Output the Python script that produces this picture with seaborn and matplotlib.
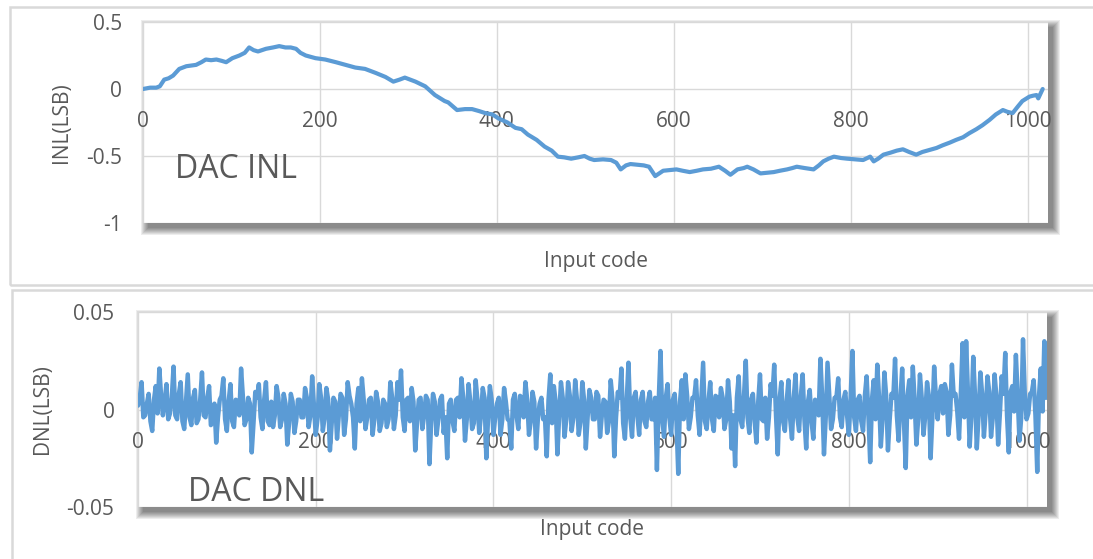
import matplotlib
matplotlib.use("Agg")
import matplotlib.pyplot as plt
from matplotlib.patches import Rectangle
import pandas as pd
import seaborn as sns

# INL curve (input code, LSB)
inl_code = [0, 8, 15, 19, 24, 29, 34, 41, 49, 55, 60, 66, 71, 77, 83, 89, 94, 101, 109, 115,
            120, 125, 130, 139, 147, 154, 161, 167, 173, 178, 184, 195, 206, 212, 218, 229, 240,
            251, 263, 274, 283, 290, 296, 302, 308, 319, 330, 341, 345, 355, 364, 372, 380, 387,
            395, 402, 412, 421, 428, 435, 445, 454, 462, 469, 476, 484, 492, 499, 505, 510, 520,
            529, 535, 540, 546, 551, 558, 566, 572, 579, 588, 596, 603, 610, 618, 626, 633, 642,
            651, 658, 664, 672, 679, 683, 690, 698, 705, 713, 720, 728, 734, 739, 748, 758, 764,
            769, 775, 781, 789, 796, 805, 814, 822, 826, 831, 837, 845, 852, 859, 866, 874, 881,
            889, 897, 904, 912, 919, 927, 934, 942, 949, 957, 964, 972, 977, 983, 989, 994, 1002,
            1006, 1010, 1012, 1017]
inl_lsb = [0.00, 0.01, 0.01, 0.02, 0.07, 0.08, 0.10, 0.15, 0.17, 0.175, 0.18, 0.20, 0.22, 0.215,
           0.22, 0.21, 0.20, 0.23, 0.25, 0.27, 0.31, 0.29, 0.28, 0.30, 0.31, 0.32, 0.31, 0.31,
           0.30, 0.27, 0.25, 0.23, 0.22, 0.21, 0.20, 0.18, 0.16, 0.15, 0.12, 0.09, 0.055, 0.07,
           0.085, 0.07, 0.055, 0.02, -0.045, -0.09, -0.10, -0.157, -0.15, -0.15, -0.165, -0.18,
           -0.19, -0.22, -0.25, -0.29, -0.30, -0.34, -0.38, -0.43, -0.46, -0.505, -0.51, -0.52,
           -0.51, -0.50, -0.52, -0.53, -0.525, -0.53, -0.55, -0.60, -0.57, -0.56, -0.565, -0.57,
           -0.58, -0.65, -0.61, -0.605, -0.60, -0.61, -0.62, -0.61, -0.60, -0.595, -0.58, -0.61,
           -0.64, -0.60, -0.59, -0.58, -0.60, -0.63, -0.625, -0.62, -0.61, -0.60, -0.59, -0.58,
           -0.59, -0.60, -0.57, -0.54, -0.52, -0.505, -0.515, -0.52, -0.525, -0.53, -0.505, -0.54,
           -0.52, -0.49, -0.475, -0.46, -0.45, -0.47, -0.49, -0.47, -0.455, -0.44, -0.42, -0.40,
           -0.38, -0.36, -0.33, -0.30, -0.27, -0.23, -0.19, -0.157, -0.17, -0.18, -0.13, -0.09,
           -0.057, -0.05, -0.045, -0.07, 0.0]

# DNL, in units of 0.001 LSB
# spikes, one value every 4 codes (0, 4, ..., 1020)
dnl_spike_code = list(range(0, 1024, 4))
dnl_spike_mlsb = [
    2, 14, -3, 8, -11, 12, 21, -3, 13, -2, 22, -5, 14, -10, 18, -8, 10, -5, 19, -4, 12, -6, -17, 5, 16,
    -11, 13, -9, 4, 21, -8, 6, -22, 9, 13, -10, 14, -8, -9, 12, -9, 8, -18, 8, -12, 5, -4, 11, -9, 17,
    -13, 13, -11, 11, -21, 6, -15, 8, -13, 14, 3, -20, 11, 16, -10, 5, -13, 9, -11, 5, -9, 14, -10, 14, 20,
    -11, 6, 11, -21, 5, -10, 7, -28, 8, -13, 5, -12, -25, 5, -11, 6, 16, -16, 13, -10, 15, -12, 11, -25, 12,
    -13, 3, -13, 11, -5, -20, 8, -10, 6, 14, -13, 9, -20, 3, -5, -24, 18, 12, -23, 14, -14, 14, -11, 15, -13,
    14, -20, 10, -5, 9, -14, 5, -12, 15, -24, 9, 21, -15, 24, -14, 9, -13, 9, -9, 9, -5, -31, 30, -14, 13,
    -13, 8, -33, 15, 18, -10, 6, 15, -13, 24, -10, 14, -11, 6, 11, -10, 15, -20, -29, 17, -9, 25, -12, 8, -17,
    18, -6, -15, 13, 23, -23, 14, -11, 15, -15, 18, -11, 18, -20, 10, -15, 3, 26, -23, 24, -10, 6, 16, -9, 9,
    -13, 30, -11, 7, -11, 17, -27, 15, 23, -19, 19, -21, 8, 26, -16, 21, -30, 15, 22, -18, 18, -13, 14, -25, 22,
    -5, 12, 13, -13, 23, 8, -15, 34, 35, -19, 27, -20, 19, -14, 17, -14, 18, -18, 17, 29, -22, 12, 28, -16,
    36, -5, 8, 15, -32, 21, 35,
]
# dense core of the band, codes 2, 6, ..., 1022
dnl_core_code = list(range(2, 1024, 4))
dnl_core_mlsb = [
    6, -4, 3, -6, 5, -2, 7, 4, -5, 6, -3, 8, -6, 4, -4, 6, -7, 5, -3, 6, -8, 3, -4, 7, -5,
    4, -6, 5, -3, 7, -5, 3, -7, 6, -4, 5, -6, 4, -3, 6, -5, 3, -7, 4, -6, 5, -4, 6, -3, 2,
    -5, 6, -4, 5, -7, 4, -3, 6, -5, 7, -4, 3, -6, 5, -4, 6, -5, 4, -7, 3, -5, 6, -3, 5, -4,
    5, -6, 4, -7, 6, -3, 5, -6, 4, -5, 7, -4, 3, -6, 5, -4, 6, -5, 4, -7, 5, -3, 6, -4, 5,
    -4, 6, -5, 4, -6, 5, -3, 7, -4, 5, -6, 4, -5, 6, -4, 5, -7, 4, -3, 6, -5, 7, -4, 5, -6,
    5, -4, 6, -5, 7, -3, 4, -6, 5, -4, 6, -7, 5, -4, 6, -3, 5, -6, 4, -5, 6, 4, -5, 6, -4,
    5, -6, 4, -5, 7, -4, 6, -3, 5, -6, 4, -5, 7, -4, 6, -5, 4, -3, 6, -5, 7, -4, 5, -6, 4,
    -5, 6, -4, 7, -3, 5, -6, 4, -5, 6, -4, 7, -5, 4, -6, 5, -3, 6, -4, 7, -5, 6, -4, 5, -3,
    6, -4, 5, -6, 7, -3, 5, -5, 6, -4, 7, -5, 6, -3, 5, -6, 7, -4, 5, -5, 6, -3, 7, -4, 6,
    8, -2, 9, -3, 7, -1, 8, -4, 9, -2, 7, -3, 8, -1, 9, -4, 7, -2, 8, -3, 9, -1, 7, -4, 8,
    -2, 9, -3, 7, -1, 6,
]

x_ticks = [0, 200, 400, 600, 800, 1000]
inl_ticks = [-1, -0.5, 0, 0.5]
inl_tick_labels = ["-1", "-0.5", "0", "0.5"]
dnl_ticks = [-0.05, 0, 0.05]
dnl_tick_labels = ["-0.05", "0", "0.05"]

dnl = pd.DataFrame({
    "code": dnl_spike_code + dnl_core_code,
    "mlsb": dnl_spike_mlsb + dnl_core_mlsb,
}).sort_values("code")
dnl["lsb"] = dnl["mlsb"] / 1000

sns.set_theme(style="white")
plt.rcParams['font.family'] = ['Open Sans', 'DejaVu Sans']

LINE = '#5B9BD5'
TEXT = '#595959'
GRID = '#D9D9D9'

W, H = 1093, 559
fig = plt.figure(figsize=(W / 100, H / 100), dpi=100)
fig.patch.set_facecolor('white')

# outer chart borders
fig.add_artist(Rectangle((10 / W, 1 - 285 / H), 1200 / W, 278 / H, transform=fig.transFigure,
                         fill=False, ec=GRID, lw=1.8, zorder=-2))
fig.add_artist(Rectangle((12 / W, -0.2), 1200 / W, 0.2 + 1 - 290 / H, transform=fig.transFigure,
                         fill=False, ec=GRID, lw=1.8, zorder=-2))

ax1 = fig.add_axes([143 / W, 1 - 223 / H, (1048 - 143) / W, (223 - 22) / H])
ax2 = fig.add_axes([138 / W, 1 - 507 / H, (1047 - 138) / W, (507 - 312) / H])


def add_shadow(ax, dx=5, dy=5, blur=7):
    bb = ax.get_position()
    for e in range(blur, -1, -1):
        fig.add_artist(Rectangle((bb.x0 + (dx - e) / W, bb.y0 - (dy + e) / H),
                                 bb.width + 2 * e / W, bb.height + 2 * e / H,
                                 transform=fig.transFigure, color='black', alpha=0.07,
                                 lw=0, zorder=-1))


def style_axes(ax, ylim, yticks, ylabels, ypad):
    ax.set_facecolor('white')
    ax.set_xlim(0, 1023)
    ax.set_ylim(*ylim)
    ax.set_xticks(x_ticks)
    ax.set_xticklabels([str(t) for t in x_ticks])
    ax.set_yticks(yticks)
    ax.set_yticklabels(ylabels)
    ax.grid(True, color=GRID, lw=1)
    for s in ax.spines.values():
        s.set_visible(False)
    ax.spines['bottom'].set_position(('data', 0))
    ax.tick_params(axis='both', length=0, labelsize=15, labelcolor=TEXT)
    ax.tick_params(axis='x', pad=16)
    ax.tick_params(axis='y', pad=ypad)


add_shadow(ax1)
add_shadow(ax2)

sns.lineplot(x=inl_code, y=inl_lsb, ax=ax1, color=LINE, linewidth=3.0)
style_axes(ax1, (-1, 0.5), inl_ticks, inl_tick_labels, 15)
ax1.set_xlabel("Input code", fontsize=15, color=TEXT)
ax1.xaxis.set_label_coords(0.5, -0.14)
ax1.set_ylabel("INL(LSB)", fontsize=15, color=TEXT)
ax1.yaxis.set_label_coords(-0.079, 0.5)
ax1.text(0.035, 0.224, "DAC INL", transform=ax1.transAxes, fontsize=23, color=TEXT,
         ha='left', va='baseline')

sns.lineplot(data=dnl, x="code", y="lsb", ax=ax2, color=LINE, linewidth=3.2,
             estimator=None, sort=False)
style_axes(ax2, (-0.05, 0.05), dnl_ticks, dnl_tick_labels, 17)
ax2.set_xlabel("Input code", fontsize=15, color=TEXT)
ax2.xaxis.set_label_coords(0.5, -0.06)
ax2.set_ylabel("DNL(LSB)", fontsize=15, color=TEXT)
ax2.yaxis.set_label_coords(-0.094, 0.5)
ax2.text(0.055, 0.031, "DAC DNL", transform=ax2.transAxes, fontsize=23, color=TEXT,
         ha='left', va='baseline')

fig.savefig("out.png", dpi=100, facecolor='white')
